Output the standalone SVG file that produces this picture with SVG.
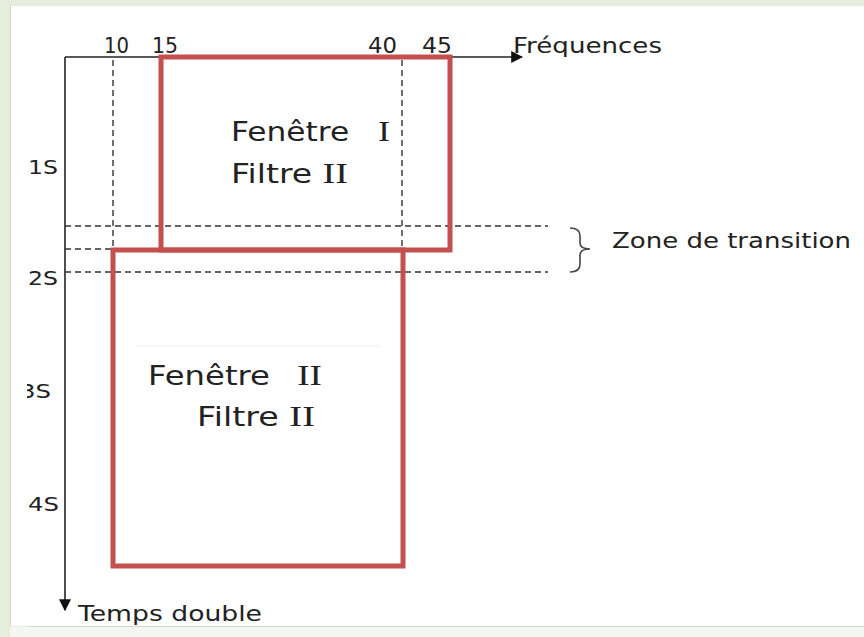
<svg xmlns="http://www.w3.org/2000/svg" width="864" height="637" viewBox="0 0 864 637">
<defs>
<style>
.lbl{font-family:"DejaVu Sans","Liberation Sans",sans-serif;fill:#222}
.rom{font-family:"Liberation Serif","DejaVu Serif",serif;font-size:30px}
.axis{stroke:#222;stroke-width:1.6;fill:none}
.dash{stroke:#333;stroke-width:1.4;stroke-dasharray:6 4;fill:none}
.win{fill:none;stroke:#c4504e;stroke-width:5}
</style>
<marker id="arr" viewBox="0 0 10 10" refX="9" refY="5" markerWidth="12" markerHeight="12" markerUnits="userSpaceOnUse" orient="auto">
<path d="M0,0 L10,5 L0,10 z" fill="#111"/>
</marker>
</defs>
<rect x="0" y="0" width="864" height="637" fill="#e5eedb"/>
<rect x="10" y="6" width="854" height="620" fill="#ffffff"/>
<line x1="10" y1="626.5" x2="864" y2="626.5" stroke="#d6d9d2" stroke-width="1"/>

<g id="connectors">
<line class="axis" x1="65" y1="57" x2="522" y2="57" marker-end="url(#arr)"/>
<line class="axis" x1="65" y1="57" x2="65" y2="610" marker-end="url(#arr)"/>
<line class="dash" x1="113" y1="60" x2="113" y2="250"/>
<line class="dash" x1="402" y1="60" x2="402" y2="250"/>
<line class="dash" x1="65" y1="226" x2="548" y2="226"/>
<line class="dash" x1="65" y1="249" x2="448" y2="249"/>
<line class="dash" x1="65" y1="272" x2="548" y2="272"/>
<path d="M570,228 Q580,228 580,236 L580,243 Q580,249 590,249 Q580,249 580,255 L580,264 Q580,272 570,272" fill="none" stroke="#444" stroke-width="1.6"/>
<line x1="135" y1="346" x2="380" y2="346" stroke="#eeeeee" stroke-width="1"/>
</g>

<g id="window1">
<rect class="win" x="161" y="57" width="289" height="193"/>
<text class="lbl" x="231" y="141" font-size="26" textLength="159" lengthAdjust="spacingAndGlyphs">Fenêtre<tspan class="rom" dx="24">I</tspan></text>
<text class="lbl" x="231" y="183" font-size="26" textLength="117" lengthAdjust="spacingAndGlyphs">Filtre <tspan class="rom">II</tspan></text>
</g>

<g id="window2">
<rect class="win" x="113" y="250" width="290" height="316"/>
<text class="lbl" x="148" y="385" font-size="26" textLength="174" lengthAdjust="spacingAndGlyphs">Fenêtre<tspan class="rom" dx="22">II</tspan></text>
<text class="lbl" x="197" y="426" font-size="26" textLength="118" lengthAdjust="spacingAndGlyphs">Filtre <tspan class="rom">II</tspan></text>
</g>

<g id="freq-labels">
<text class="lbl" x="104" y="53" font-size="21" textLength="25" lengthAdjust="spacingAndGlyphs">10</text>
<text class="lbl" x="152" y="53" font-size="21" textLength="26" lengthAdjust="spacingAndGlyphs">15</text>
<text class="lbl" x="368" y="53" font-size="21" textLength="29" lengthAdjust="spacingAndGlyphs">40</text>
<text class="lbl" x="422" y="53" font-size="21" textLength="30" lengthAdjust="spacingAndGlyphs">45</text>
<text class="lbl" x="513" y="53" font-size="22" textLength="149" lengthAdjust="spacingAndGlyphs">Fréquences</text>
</g>

<g id="time-labels">
<text class="lbl" x="28" y="174" font-size="20" textLength="30" lengthAdjust="spacingAndGlyphs">1S</text>
<text class="lbl" x="28" y="285" font-size="20" textLength="30" lengthAdjust="spacingAndGlyphs">2S</text>
<text class="lbl" x="20" y="398" font-size="20" textLength="31" lengthAdjust="spacingAndGlyphs">3S</text>
<text class="lbl" x="28" y="511" font-size="20" textLength="31" lengthAdjust="spacingAndGlyphs">4S</text>
<text class="lbl" x="78" y="621" font-size="22" textLength="184" lengthAdjust="spacingAndGlyphs">Temps double</text>
</g>

<g id="zone-label">
<text class="lbl" x="612" y="248" font-size="21" textLength="239" lengthAdjust="spacingAndGlyphs">Zone de transition</text>
</g>

<rect x="0" y="0" width="27" height="637" fill="#e5eedb"/>
<rect x="10" y="6" width="17" height="620" fill="#ffffff"/>
<rect x="0" y="0" width="25" height="637" fill="none"/>
<rect x="0" y="380" width="26" height="25" fill="#ffffff"/>
<rect x="0" y="0" width="10" height="637" fill="#e5eedb"/>
<line x1="10.5" y1="6" x2="10.5" y2="626" stroke="#cfd3cb" stroke-width="1"/>
<rect x="10" y="627" width="854" height="10" fill="#f4f6f1"/>
</svg>
